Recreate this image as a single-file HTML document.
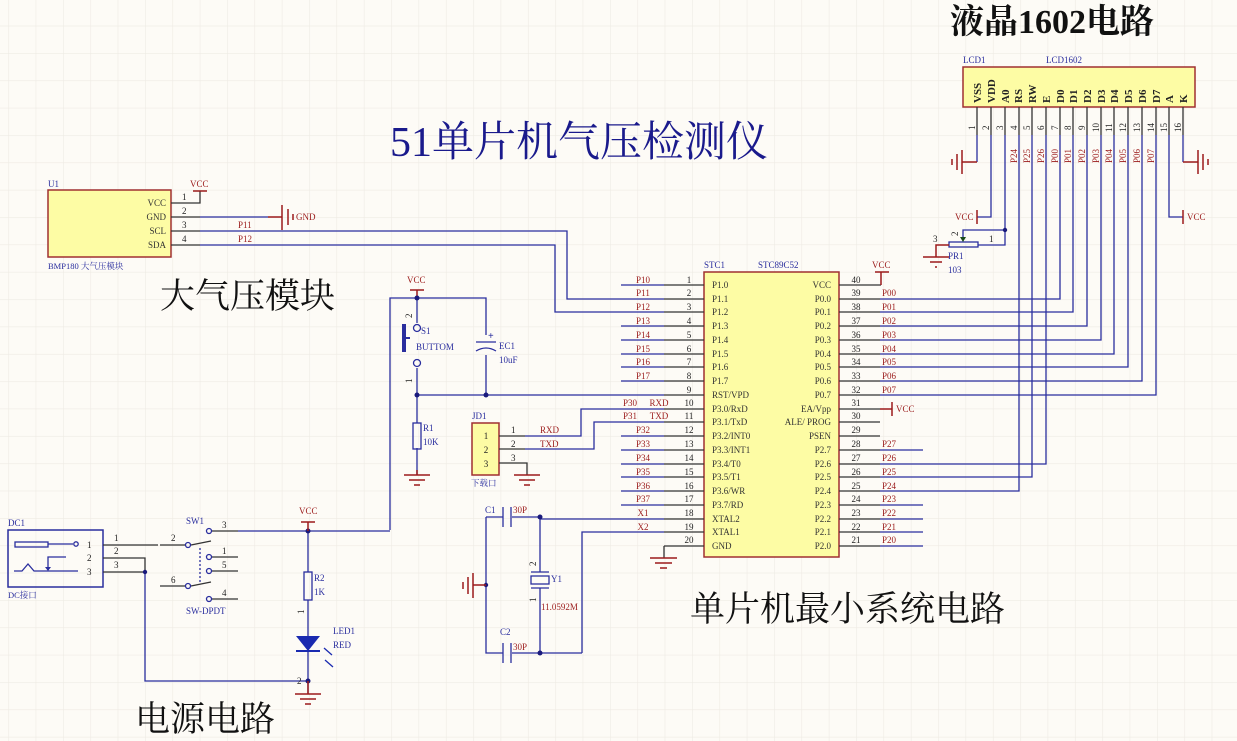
<!DOCTYPE html>
<html><head><meta charset="utf-8"><style>
html,body{margin:0;padding:0;background:#fdfbf6;}
svg{display:block;}
text{font-family:"Liberation Serif","Noto Serif CJK SC",serif;}
g[stroke] path{fill:none;}
.s{font-size:9px;fill:#333;}
.n{font-size:9px;fill:#9b1b1b;}
.d{font-size:9px;fill:#2a2e9e;}
.pn{font-size:9px;fill:#222;}
.big{font-family:"Liberation Serif","Noto Serif CJK SC",serif;fill:#111;}
</style></head><body>
<svg width="1237" height="741" viewBox="0 0 1237 741" xmlns="http://www.w3.org/2000/svg">
<defs>
<pattern id="g" x="8.3" y="25.7" width="27.35" height="27.35" patternUnits="userSpaceOnUse">
<path d="M0 0H27.35M0 0V27.35" stroke="#eeebe4" stroke-width="1.2" fill="none"/>
</pattern>
</defs>
<rect width="1237" height="741" fill="#fdfbf6"/>
<rect width="1237" height="741" fill="url(#g)"/>

<!-- Titles -->
<text x="390" y="156" font-size="42" class="big" style="fill:#1a1a8c">51单片机气压检测仪</text>
<text x="950" y="33" font-size="34" font-weight="bold" class="big">液晶1602电路</text>
<text x="160" y="308" font-size="35" class="big">大气压模块</text>
<text x="690" y="621" font-size="35" class="big">单片机最小系统电路</text>
<text x="135" y="731" font-size="35" class="big">电源电路</text>

<!-- ===== U1 BMP180 ===== -->
<rect x="48" y="190" width="123" height="67" fill="#fdfca4" stroke="#a03030" stroke-width="1.5"/>
<text x="48" y="187" class="d">U1</text>
<text x="48" y="269" class="d" style="font-size:8.5px">BMP180 大气压模块</text>
<g class="s" text-anchor="end"><text x="166" y="206">VCC</text><text x="166" y="220">GND</text><text x="166" y="234">SCL</text><text x="166" y="248">SDA</text></g>
<g class="pn"><text x="182" y="200">1</text><text x="182" y="214">2</text><text x="182" y="228">3</text><text x="182" y="242">4</text></g>
<g stroke="#333" stroke-width="1.3" fill="none"><path d="M171 203H200V191M171 217H200M171 231H200M171 245H200"/></g>
<path d="M193 191H207" stroke="#9b1b1b" stroke-width="1.5"/>
<text x="190" y="187" class="n">VCC</text>
<g stroke="#2a2e9e" stroke-width="1.3" fill="none">
<path d="M200 217H268"/>
<path d="M200 231H567V299H664"/>
<path d="M200 245H555V312H664"/>
</g>
<g stroke="#9b1b1b" stroke-width="1.5" fill="none"><path d="M268 217H282M282 205V230M288 209V225M293 214V220"/></g>
<text x="296" y="220" class="n">GND</text>
<text x="238" y="228" class="n">P11</text>
<text x="238" y="242" class="n">P12</text>

<!-- ===== Reset ===== -->
<text x="407" y="283" class="n">VCC</text>
<path d="M417 298V290M410 290H424" stroke="#9b1b1b" stroke-width="1.5" fill="none"/>
<g stroke="#2a2e9e" stroke-width="1.3" fill="none">
<path d="M390 530V298H486V335"/>
<path d="M486 355V395"/>
<path d="M417 395H664"/>
<path d="M417 298V323M417 368V395V423M417 448V475"/>
<circle cx="417" cy="328" r="3.5"/><circle cx="417" cy="363" r="3.5"/>
<path d="M476 342H496M476 351Q486 345 496 351"/>
</g>
<rect x="402" y="324" width="4" height="28" fill="#2a2e9e"/>
<path d="M406 338H410" stroke="#2a2e9e" stroke-width="2"/>
<circle cx="417" cy="298" r="2.5" fill="#1a1a7c"/><circle cx="417" cy="395" r="2.5" fill="#1a1a7c"/><circle cx="486" cy="395" r="2.5" fill="#1a1a7c"/>
<text x="488" y="339" class="d" style="font-size:10px;font-weight:bold">+</text>
<text x="421" y="334" class="d">S1</text>
<text x="416" y="350" class="d">BUTTOM</text>
<text x="499" y="349" class="d">EC1</text>
<text x="499" y="363" class="d">10uF</text>
<text x="412" y="318" class="pn" transform="rotate(-90 412 318)">2</text>
<text x="412" y="383" class="pn" transform="rotate(-90 412 383)">1</text>
<rect x="413" y="423" width="8" height="26" fill="none" stroke="#2a2e9e" stroke-width="1.3"/>
<text x="423" y="431" class="d">R1</text><text x="423" y="445" class="d">10K</text>
<g stroke="#9b1b1b" stroke-width="1.5" fill="none"><path d="M404 475H430M409 480H425M414 485H420M417 475V470"/></g>

<!-- JD1 -->
<rect x="472" y="423" width="27" height="52" fill="#fdfca4" stroke="#a03030" stroke-width="1.5"/>
<text x="472" y="419" class="d">JD1</text>
<g class="pn" text-anchor="middle"><text x="486" y="439">1</text><text x="486" y="453">2</text><text x="486" y="467">3</text></g>
<text x="471" y="486" class="d" style="font-size:8.5px">下载口</text>
<g stroke="#333" stroke-width="1.3" fill="none"><path d="M499 436H525M499 449H525M499 463H527V475"/></g>
<g class="pn"><text x="511" y="433">1</text><text x="511" y="447">2</text><text x="511" y="461">3</text></g>
<g stroke="#9b1b1b" stroke-width="1.5" fill="none"><path d="M514 475H540M519 480H535M524 485H530"/></g>
<g stroke="#2a2e9e" stroke-width="1.3" fill="none">
<path d="M525 436H581V409H664"/>
<path d="M525 449H594V422H664"/>
</g>
<text x="540" y="433" class="n">RXD</text><text x="540" y="447" class="n">TXD</text>

<!-- ===== MCU ===== -->
<rect x="704" y="272" width="135" height="285" fill="#fdfca4" stroke="#a03030" stroke-width="1.5"/>
<text x="704" y="268" class="d">STC1</text>
<text x="758" y="268" class="d">STC89C52</text>
<g stroke="#2a2e9e" stroke-width="1.3" fill="none">
<path d="M621 285H664M621 326H664M621 340H664M621 354H664M621 367H664M621 381H664M621 436H664M621 450H664M621 464H664M621 477H664M621 491H664M621 505H664"/>
<path d="M540 519H664M582 653V532H664"/>
</g>
<g stroke="#333" stroke-width="1.3" fill="none">
<path d="M664 285H704M664 299H704M664 312H704M664 326H704M664 340H704M664 354H704M664 367H704M664 381H704M664 395H704M664 409H704M664 422H704M664 436H704M664 450H704M664 464H704M664 477H704M664 491H704M664 505H704M664 519H704M664 532H704M664 546H704M664 546V558"/>
<path d="M839 285H881M839 299H880M839 312H880M839 326H880M839 340H880M839 354H880M839 367H880M839 381H880M839 395H880M839 409H880M839 422H880M839 436H880M839 450H880M839 464H880M839 477H880M839 491H880M839 505H880M839 519H880M839 532H880M839 546H880"/>
</g>
<g stroke="#9b1b1b" stroke-width="1.5" fill="none"><path d="M881 285V272M875 272H889M880 409H892M892 402V416M650 558H677M655 563H672M660 568H667"/></g>
<text x="872" y="268" class="n">VCC</text>
<text x="896" y="412" class="n">VCC</text>
<g class="n" text-anchor="middle">
<text x="643" y="283">P10</text><text x="643" y="296">P11</text><text x="643" y="310">P12</text><text x="643" y="324">P13</text><text x="643" y="338">P14</text><text x="643" y="352">P15</text><text x="643" y="365">P16</text><text x="643" y="379">P17</text>
<text x="630" y="406">P30</text><text x="659" y="406">RXD</text><text x="630" y="419">P31</text><text x="659" y="419">TXD</text>
<text x="643" y="433">P32</text><text x="643" y="447">P33</text><text x="643" y="461">P34</text><text x="643" y="475">P35</text><text x="643" y="489">P36</text><text x="643" y="502">P37</text><text x="643" y="516">X1</text><text x="643" y="530">X2</text>
</g>
<g class="pn" text-anchor="middle">
<text x="689" y="283">1</text><text x="689" y="296">2</text><text x="689" y="310">3</text><text x="689" y="324">4</text><text x="689" y="338">5</text><text x="689" y="352">6</text><text x="689" y="365">7</text><text x="689" y="379">8</text><text x="689" y="393">9</text><text x="689" y="406">10</text><text x="689" y="419">11</text><text x="689" y="433">12</text><text x="689" y="447">13</text><text x="689" y="461">14</text><text x="689" y="475">15</text><text x="689" y="489">16</text><text x="689" y="502">17</text><text x="689" y="516">18</text><text x="689" y="530">19</text><text x="689" y="543">20</text>
<text x="856" y="283">40</text><text x="856" y="296">39</text><text x="856" y="310">38</text><text x="856" y="324">37</text><text x="856" y="338">36</text><text x="856" y="352">35</text><text x="856" y="365">34</text><text x="856" y="379">33</text><text x="856" y="393">32</text><text x="856" y="406">31</text><text x="856" y="419">30</text><text x="856" y="433">29</text><text x="856" y="447">28</text><text x="856" y="461">27</text><text x="856" y="475">26</text><text x="856" y="489">25</text><text x="856" y="502">24</text><text x="856" y="516">23</text><text x="856" y="530">22</text><text x="856" y="543">21</text>
</g>
<g class="s">
<text x="712" y="288">P1.0</text><text x="712" y="302">P1.1</text><text x="712" y="315">P1.2</text><text x="712" y="329">P1.3</text><text x="712" y="343">P1.4</text><text x="712" y="357">P1.5</text><text x="712" y="370">P1.6</text><text x="712" y="384">P1.7</text><text x="712" y="398">RST/VPD</text><text x="712" y="412">P3.0/RxD</text><text x="712" y="425">P3.1/TxD</text><text x="712" y="439">P3.2/INT0</text><text x="712" y="453">P3.3/INT1</text><text x="712" y="467">P3.4/T0</text><text x="712" y="480">P3.5/T1</text><text x="712" y="494">P3.6/WR</text><text x="712" y="508">P3.7/RD</text><text x="712" y="522">XTAL2</text><text x="712" y="535">XTAL1</text><text x="712" y="549">GND</text>
</g>
<g class="s" text-anchor="end">
<text x="831" y="288">VCC</text><text x="831" y="302">P0.0</text><text x="831" y="315">P0.1</text><text x="831" y="329">P0.2</text><text x="831" y="343">P0.3</text><text x="831" y="357">P0.4</text><text x="831" y="370">P0.5</text><text x="831" y="384">P0.6</text><text x="831" y="398">P0.7</text><text x="831" y="412">EA/Vpp</text><text x="831" y="425">ALE/ PROG</text><text x="831" y="439">PSEN</text><text x="831" y="453">P2.7</text><text x="831" y="467">P2.6</text><text x="831" y="480">P2.5</text><text x="831" y="494">P2.4</text><text x="831" y="508">P2.3</text><text x="831" y="522">P2.2</text><text x="831" y="535">P2.1</text><text x="831" y="549">P2.0</text>
</g>
<g class="n">
<text x="882" y="296">P00</text><text x="882" y="310">P01</text><text x="882" y="324">P02</text><text x="882" y="338">P03</text><text x="882" y="352">P04</text><text x="882" y="365">P05</text><text x="882" y="379">P06</text><text x="882" y="393">P07</text>
<text x="882" y="447">P27</text><text x="882" y="461">P26</text><text x="882" y="475">P25</text><text x="882" y="489">P24</text><text x="882" y="502">P23</text><text x="882" y="516">P22</text><text x="882" y="530">P21</text><text x="882" y="543">P20</text>
</g>
<g stroke="#2a2e9e" stroke-width="1.3" fill="none">
<path d="M880 299H1060V135M880 312H1073V135M880 326H1087V135M880 340H1101V135M880 354H1114V135M880 367H1128V135M880 381H1142V135M880 395H1156V135"/>
<path d="M880 464H1046V135M880 477H1032V135M880 491H1019V135"/>
<path d="M880 450H923M880 505H923M880 519H923M880 532H923M880 546H923"/>
</g>

<!-- ===== LCD ===== -->
<rect x="963" y="67" width="232" height="40" fill="#fdfca4" stroke="#a03030" stroke-width="1.5"/>
<text x="963" y="63" class="d">LCD1</text>
<text x="1046" y="63" class="d">LCD1602</text>
<g style="font-size:11px;fill:#222;font-weight:bold">
<text transform="translate(981 103) rotate(-90)">VSS</text>
<text transform="translate(995 103) rotate(-90)">VDD</text>
<text transform="translate(1009 103) rotate(-90)">A0</text>
<text transform="translate(1022 103) rotate(-90)">RS</text>
<text transform="translate(1036 103) rotate(-90)">RW</text>
<text transform="translate(1050 103) rotate(-90)">E</text>
<text transform="translate(1064 103) rotate(-90)">D0</text>
<text transform="translate(1077 103) rotate(-90)">D1</text>
<text transform="translate(1091 103) rotate(-90)">D2</text>
<text transform="translate(1105 103) rotate(-90)">D3</text>
<text transform="translate(1118 103) rotate(-90)">D4</text>
<text transform="translate(1132 103) rotate(-90)">D5</text>
<text transform="translate(1146 103) rotate(-90)">D6</text>
<text transform="translate(1160 103) rotate(-90)">D7</text>
<text transform="translate(1173 103) rotate(-90)">A</text>
<text transform="translate(1187 103) rotate(-90)">K</text>
</g>
<g stroke="#333" stroke-width="1.3" fill="none">
<path d="M977 107V135M991 107V135M1005 107V135M1019 107V135M1032 107V135M1046 107V135M1060 107V135M1073 107V135M1087 107V135M1101 107V135M1114 107V135M1128 107V135M1142 107V135M1156 107V135M1169 107V135M1183 107V135"/>
</g>
<g class="pn">
<text transform="translate(975 130) rotate(-90)">1</text><text transform="translate(989 130) rotate(-90)">2</text><text transform="translate(1003 130) rotate(-90)">3</text><text transform="translate(1017 130) rotate(-90)">4</text><text transform="translate(1030 130) rotate(-90)">5</text><text transform="translate(1044 130) rotate(-90)">6</text><text transform="translate(1058 130) rotate(-90)">7</text><text transform="translate(1071 130) rotate(-90)">8</text><text transform="translate(1085 130) rotate(-90)">9</text><text transform="translate(1099 132) rotate(-90)">10</text><text transform="translate(1112 132) rotate(-90)">11</text><text transform="translate(1126 132) rotate(-90)">12</text><text transform="translate(1140 132) rotate(-90)">13</text><text transform="translate(1154 132) rotate(-90)">14</text><text transform="translate(1167 132) rotate(-90)">15</text><text transform="translate(1181 132) rotate(-90)">16</text>
</g>
<g class="n">
<text transform="translate(1017 163) rotate(-90)">P24</text><text transform="translate(1030 163) rotate(-90)">P25</text><text transform="translate(1044 163) rotate(-90)">P26</text><text transform="translate(1058 163) rotate(-90)">P00</text><text transform="translate(1071 163) rotate(-90)">P01</text><text transform="translate(1085 163) rotate(-90)">P02</text><text transform="translate(1099 163) rotate(-90)">P03</text><text transform="translate(1112 163) rotate(-90)">P04</text><text transform="translate(1126 163) rotate(-90)">P05</text><text transform="translate(1140 163) rotate(-90)">P06</text><text transform="translate(1154 163) rotate(-90)">P07</text>
</g>
<g stroke="#2a2e9e" stroke-width="1.3" fill="none">
<path d="M977 135V162M991 135V217H977M1005 135V230H963V240M1183 135V162M1169 135V217H1183"/>
<path d="M978 245H1005V230"/>
<rect x="949" y="242" width="29" height="5"/>
</g>
<path d="M960 237L963 242L966 237Z" fill="#1a4a1a"/>
<circle cx="1005" cy="230" r="2.2" fill="#1a1a7c"/>
<g stroke="#9b1b1b" stroke-width="1.5" fill="none">
<path d="M977 162H962M962 150V174M957 154V170M952 159V165"/>
<path d="M1183 162H1198M1198 150V174M1203 154V170M1208 159V165"/>
<path d="M977 210V224M1183 210V224"/>
<path d="M949 245H936V257M923 257H949M930 262H942M935 267H937"/>
</g>
<text x="955" y="220" class="n">VCC</text>
<text x="1187" y="220" class="n">VCC</text>
<text transform="translate(958 236) rotate(-90)" class="pn">2</text>
<text x="933" y="242" class="pn">3</text>
<text x="989" y="242" class="pn">1</text>
<text x="948" y="259" class="d">PR1</text>
<text x="948" y="273" class="d">103</text>

<!-- ===== Crystal ===== -->
<g stroke="#2a2e9e" stroke-width="1.3" fill="none">
<path d="M486 517V653H503M512 653H582M486 517H503M512 517H540V572M540 588V653"/>
<path d="M503 507V527M511 507V527M503 643V663M511 643V663"/>
<rect x="531" y="576" width="18" height="8"/>
<path d="M531 572H549M531 588H549"/>
</g>
<circle cx="540" cy="517" r="2.5" fill="#1a1a7c"/><circle cx="540" cy="653" r="2.5" fill="#1a1a7c"/><circle cx="486" cy="585" r="2.2" fill="#1a1a7c"/>
<g stroke="#9b1b1b" stroke-width="1.5" fill="none"><path d="M486 585H473M473 573V598M468 577V594M463 582V589"/></g>
<text x="485" y="513" class="d">C1</text><text x="513" y="513" class="n">30P</text>
<text x="500" y="635" class="d">C2</text><text x="513" y="650" class="n">30P</text>
<text x="551" y="582" class="d">Y1</text>
<text x="541" y="610" class="n">11.0592M</text>
<text transform="translate(536 566) rotate(-90)" class="pn">2</text>
<text transform="translate(536 602) rotate(-90)" class="pn">1</text>

<!-- ===== Power ===== -->
<rect x="8" y="530" width="95" height="57" fill="none" stroke="#2a2e9e" stroke-width="1.5"/>
<text x="8" y="526" class="d">DC1</text>
<text x="8" y="598" class="d" style="font-size:8.5px">DC接口</text>
<g stroke="#2a2e9e" stroke-width="1.3" fill="none">
<rect x="15" y="542" width="33" height="5"/>
<path d="M48 544H73M48 570V557H66M14 571H22L28 564L34 571H78"/>
<circle cx="76" cy="544" r="2.2"/>
</g>
<path d="M45 567H51L48 571Z" fill="#2a2e9e"/>
<g class="pn"><text x="87" y="548">1</text><text x="87" y="561">2</text><text x="87" y="575">3</text>
<text x="114" y="541">1</text><text x="114" y="554">2</text><text x="114" y="568">3</text></g>
<g stroke="#333" stroke-width="1.3" fill="none">
<path d="M103 545H158M103 558H145V572M103 572H145"/>
<path d="M160 545H185M191 545L211 541"/>
<path d="M212 531H238M212 557H238M212 571H238M212 599H238"/>
<path d="M160 586H185M191 586L211 582"/>
</g>
<g stroke="#2a2e9e" stroke-width="1.3" fill="none">
<circle cx="188" cy="545" r="2.5"/><circle cx="209" cy="531" r="2.5"/><circle cx="209" cy="557" r="2.5"/><circle cx="209" cy="571" r="2.5"/><circle cx="188" cy="586" r="2.5"/><circle cx="209" cy="599" r="2.5"/>
<path d="M200 548V583" stroke-dasharray="2 2"/>
<path d="M238 531H390M145 572V681H308M308 531V572M308 600V636M308 651V694"/>
<rect x="304" y="572" width="8" height="28"/>
</g>
<circle cx="145" cy="572" r="2.2" fill="#1a1a7c"/><circle cx="308" cy="531" r="2.5" fill="#1a1a7c"/><circle cx="308" cy="681" r="2.5" fill="#1a1a7c"/>
<path d="M296 636H320L308 651Z" fill="#1a2ab0"/>
<path d="M296 651H320" stroke="#1a2ab0" stroke-width="2"/>
<path d="M324 648L332 655M325 660L333 667" stroke="#1a2ab0" stroke-width="1.3" fill="none"/>
<g class="pn"><text x="171" y="541">2</text><text x="222" y="528">3</text><text x="222" y="554">1</text><text x="222" y="568">5</text><text x="171" y="583">6</text><text x="222" y="596">4</text></g>
<text x="186" y="524" class="d">SW1</text>
<text x="186" y="614" class="d">SW-DPDT</text>
<text x="299" y="514" class="n">VCC</text>
<path d="M308 531V522M301 522H315" stroke="#9b1b1b" stroke-width="1.5" fill="none"/>
<text x="314" y="581" class="d">R2</text><text x="314" y="595" class="d">1K</text>
<text transform="translate(304 614) rotate(-90)" class="pn">1</text>
<text x="333" y="634" class="d">LED1</text><text x="333" y="648" class="d">RED</text>
<text x="297" y="684" class="pn">2</text>
<g stroke="#9b1b1b" stroke-width="1.5" fill="none"><path d="M308 681V694M295 694H321M300 699H316M305 704H311"/></g>
</svg>
</body></html>
